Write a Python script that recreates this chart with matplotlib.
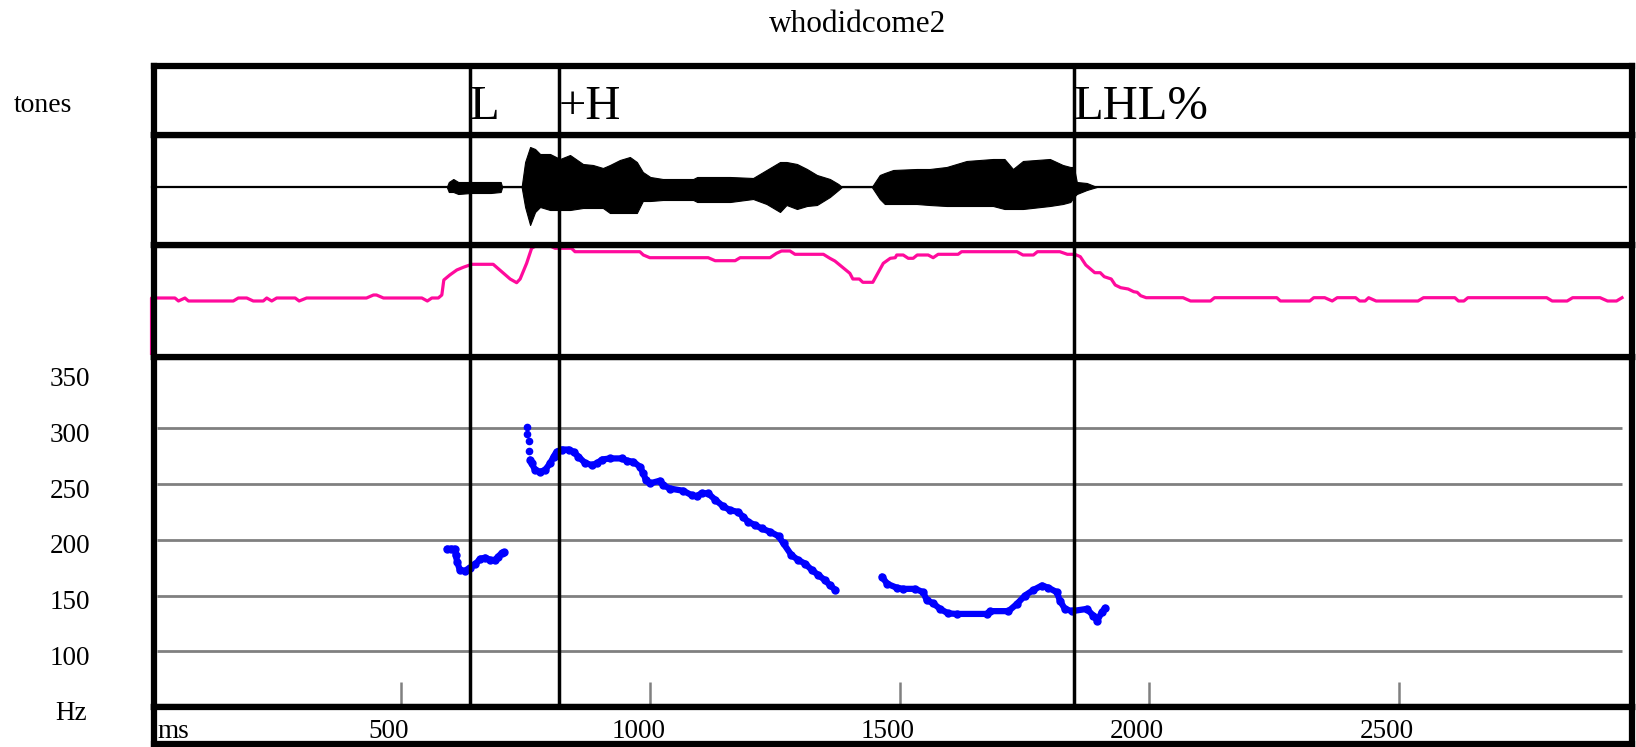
import matplotlib
matplotlib.use("Agg")
import matplotlib.pyplot as plt
from matplotlib import transforms

plt.rcParams['font.family'] = ['Liberation Serif', 'DejaVu Serif']

# ---- data ----
title = "whodidcome2"

# tone labels and their boundary times (ms)
tone_times = [638, 816, 1849]
tone_labels = ["L", "+H", "LHL%"]

# waveform envelope (ms, upper / lower amplitude)
wave_t = [592, 596, 605, 615, 640, 660, 680, 700, 703,
          742, 749, 759, 769, 779, 799, 819, 839, 865, 885, 905, 919, 939, 959,
          973, 985, 1000, 1025, 1086, 1094, 1160, 1206, 1233, 1260, 1273, 1294,
          1314, 1334, 1360, 1377, 1384,
          1444, 1460, 1470, 1487, 1534, 1560, 1594, 1634, 1687, 1710, 1727, 1747,
          1801, 1827, 1842, 1849, 1855, 1875, 1895]
wave_up = [0, 5, 8, 5, 5, 5, 5, 5, 0,
           0, 25, 40, 38, 33, 33, 28, 32, 23, 22, 19, 22, 27, 30,
           25, 15, 10, 8, 8, 10, 10, 9, 17, 25, 25, 23,
           18, 12, 8, 3, 0,
           0, 12, 14, 17, 18, 18, 20, 26, 28, 28, 18, 26,
           28, 22, 20, 20, 5, 4, 0]
wave_low = [0, -5, -5, -7, -6, -6, -6, -5, 0,
            0, -20, -38, -25, -20, -23, -23, -23, -21, -21, -21, -26, -26, -26,
            -26, -14, -14, -13, -13, -15, -15, -12, -17, -25, -18, -22,
            -19, -18, -10, -3, 0,
            0, -12, -17, -17, -17, -18, -19, -19, -19, -22, -22, -22,
            -19, -17, -15, -10, -7, -3, 0]
wave_span = [0, 2955]

# intensity contour (ms, arbitrary units)
int_t = [0, 0, 47, 54, 67, 74, 164, 174, 191, 204, 224, 231, 241, 251, 288, 296,
         311, 431, 445, 451, 465, 542, 553, 562, 575, 582, 586, 598, 612, 625,
         642, 685, 719, 732, 739, 752, 762, 779, 785, 799, 809, 842, 849, 979,
         986, 999, 1116, 1130, 1170, 1180, 1240, 1253, 1263, 1280, 1290, 1347,
         1360, 1370, 1400, 1406, 1419, 1426, 1446, 1467, 1481, 1491, 1494, 1507,
         1517, 1527, 1535, 1557, 1567, 1577, 1617, 1624, 1735, 1747, 1768, 1776,
         1821, 1836, 1851, 1862, 1873, 1891, 1902, 1910, 1924, 1932, 1943, 1958,
         1969, 1976, 1983, 1994, 2068, 2083, 2123, 2131, 2256, 2263, 2322, 2330,
         2352, 2367, 2377, 2414, 2422, 2433, 2440, 2455, 2539, 2550, 2613, 2620,
         2631, 2639, 2797, 2808, 2838, 2849, 2904, 2919, 2937, 2948]
int_v = [3.7, 59, 59, 56, 59, 56, 56, 59, 59, 56, 56, 59, 56, 59, 59, 56,
         59, 59, 62, 62, 59, 59, 56, 59, 59, 62, 77, 82, 87, 89.7,
         92.7, 92.7, 78, 74.3, 78, 93.7, 108.7, 113.7, 112, 111, 108.7, 108.7, 105.3, 105.3,
         102, 99.3, 99.3, 96.3, 96.3, 99.3, 99.3, 103.7, 106, 106, 102.7, 102.7,
         98.7, 96, 83.7, 78, 78, 74.7, 74.7, 93.7, 98.7, 99.3, 102, 102,
         98.7, 98.7, 102, 102, 99.3, 102.7, 102.7, 105.3, 105.3, 102, 102, 105.3,
         105.3, 102.7, 102.7, 100.3, 92, 84.3, 84.3, 80.3, 78, 72, 69.3, 68,
         65.3, 64.7, 61.3, 59.3, 59.3, 56, 56, 59.3, 59.3, 56, 56, 59.3,
         59.3, 56, 59.3, 59.3, 56, 56, 59.3, 56, 56, 59.3, 59.3, 56,
         56, 59.3, 59.3, 56, 56, 59.3, 59.3, 56, 56, 59.3]

# pitch track (ms, Hz)
f0_t1 = [592, 600, 608, 610, 613, 618, 628, 638, 649, 659, 669, 679, 689, 695, 702, 707]
f0_hz1 = [192, 192, 192, 186, 180, 173, 172, 175, 178, 183, 184, 182, 182, 185, 188, 189]
f0_tsp = [752, 753, 756, 757]
f0_hzsp = [301, 295, 289, 280]
f0_t2 = [759, 762, 769, 779, 789, 799, 806, 812, 822, 836, 846, 856, 869, 883, 893,
         903, 919, 943, 953, 966, 979, 986, 991, 999, 1019, 1026, 1039, 1066, 1083,
         1093, 1103, 1116, 1130, 1146, 1160, 1176, 1186, 1196, 1210, 1223, 1240,
         1257, 1267, 1283, 1297, 1310, 1324, 1337, 1350, 1360, 1370]
f0_hz2 = [272, 268.6, 262.6, 261, 262.6, 268.6, 274.5, 279, 281, 281, 279, 274.5,
          269, 267, 268.6, 272, 273, 273, 271, 270, 265.6, 259.6, 253.6, 250.6, 253,
          249, 246, 244, 240, 239, 242, 241.6, 236, 230, 226.6, 225, 220.7, 216.2,
          213.2, 210.2, 207.2, 203.3, 196.7, 186.2, 181.7, 178.7, 172.8, 168.3,
          163.8, 159.3, 155.4]
f0_t3 = [1464, 1475, 1494, 1507, 1531, 1547, 1554, 1567, 1581, 1597, 1614, 1674,
         1681, 1718, 1735, 1751, 1768, 1785, 1798, 1815, 1821, 1831, 1845, 1875,
         1888, 1896, 1905, 1912]
f0_hz3 = [167, 160.5, 157, 156, 156, 153, 146, 143, 138, 134, 133.5, 133.5, 136,
          136, 142.5, 150, 155, 159, 157, 153, 145.5, 138, 136, 138, 132, 127.5,
          135, 139]

hz_ticks = [350, 300, 250, 200, 150, 100]
hz_grid = [300, 250, 200, 150, 100]
ms_ticks = [500, 1000, 1500, 2000, 2500]

# ---- figure ----
W, H = 1636, 747
fig = plt.figure(figsize=(W / 100, H / 100), dpi=100)
X0, X1 = 154, 1632
XLIM = (5, 2968)


def panel(top, bottom):
    ax = fig.add_axes([X0 / W, 1 - bottom / H, (X1 - X0) / W, (bottom - top) / H])
    ax.set_xlim(*XLIM)
    ax.set_xticks([])
    ax.set_yticks([])
    for s in ax.spines.values():
        s.set_linewidth(4.5)
        s.set_color("black")
    return ax


ax_f0 = panel(357, 707)
ax_ms = panel(707, 744)
ax_int = panel(245, 357)
ax_w = panel(135, 245)
ax_t = panel(66, 135)

# tones tier
ax_t.set_ylim(0, 1)
for t, lab in zip(tone_times, tone_labels):
    ax_t.text(t, 0.23, lab, fontsize=35, ha="left", va="baseline")

# waveform
ax_w.set_ylim(-58, 52)
ax_w.plot(wave_span, [0, 0], color="black", lw=1.6, clip_on=False)
ax_w.fill_between(wave_t, wave_low, wave_up, color="black", lw=0.8)

# intensity
ax_int.set_ylim(0, 112)
ax_int.plot(int_t, int_v, color="#ff0a9c", lw=2.3, clip_on=False,
            solid_joinstyle="round")

# pitch
ax_f0.set_ylim(50, 364)
ax_f0.hlines(hz_grid, 11, 2948, color="#808080", lw=2)
ax_f0.vlines(ms_ticks, 50, 72, color="#808080", lw=1.8)
blue = "#0000ff"
for tt, hh in [(f0_t1, f0_hz1), (f0_t2, f0_hz2), (f0_t3, f0_hz3)]:
    ax_f0.plot(tt, hh, color=blue, lw=4.5, marker="o", ms=5,
               solid_capstyle="round", solid_joinstyle="round")
ax_f0.plot(f0_tsp, f0_hzsp, "o", color=blue, ms=4.5, lw=0)

# boundary lines
for ax in (ax_t, ax_w, ax_int, ax_f0):
    for t in tone_times:
        ax.axvline(t, color="black", lw=2.5)

# Hz labels left of the pitch panel
tr = transforms.blended_transform_factory(fig.transFigure, ax_f0.transData)
tr = tr + transforms.ScaledTranslation(0, -7 / 100, fig.dpi_scale_trans)
for v in hz_ticks:
    ax_f0.text(90 / W, v, str(v), transform=tr, ha="right", va="center",
               fontsize=19.5, clip_on=False)
ax_f0.text(87 / W, 50, "Hz", transform=tr, ha="right", va="center",
           fontsize=19.5, clip_on=False)

# ms strip
ax_ms.set_ylim(0, 1)
ax_ms.text(11, 0.35, "ms", ha="left", va="center", fontsize=19.5)
for t in ms_ticks:
    ax_ms.text(t - 24, 0.35, str(t), ha="center", va="center", fontsize=19.5)

fig.text(14 / W, 1 - 105 / H, "tones", ha="left", va="center", fontsize=20)
fig.text(858 / W, 1 - 25 / H, title, ha="center", va="center", fontsize=22.5)

fig.savefig("out.png", dpi=100)
